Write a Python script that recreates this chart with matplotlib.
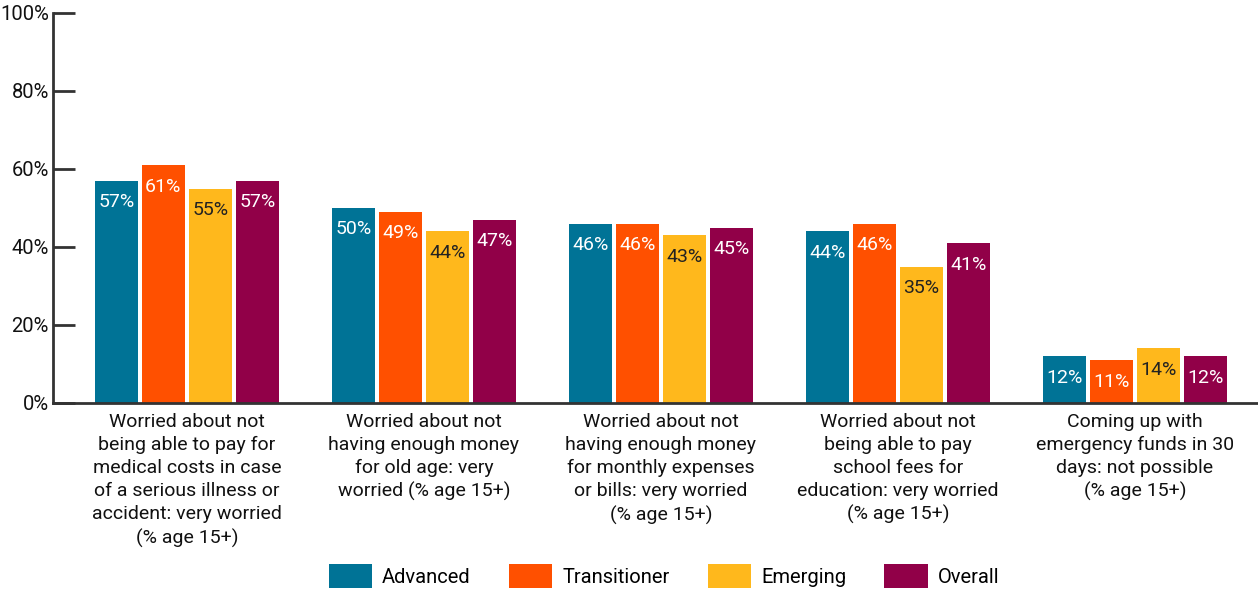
import matplotlib.pyplot as plt
import numpy as np

plt.rcParams['font.family'] = ['Roboto', 'DejaVu Sans']

categories = [
    "Worried about not\nbeing able to pay for\nmedical costs in case\nof a serious illness or\naccident: very worried\n(% age 15+)",
    "Worried about not\nhaving enough money\nfor old age: very\nworried (% age 15+)",
    "Worried about not\nhaving enough money\nfor monthly expenses\nor bills: very worried\n(% age 15+)",
    "Worried about not\nbeing able to pay\nschool fees for\neducation: very worried\n(% age 15+)",
    "Coming up with\nemergency funds in 30\ndays: not possible\n(% age 15+)",
]
series_names = ["Advanced", "Transitioner", "Emerging", "Overall"]
advanced = [57, 50, 46, 44, 12]
transitioner = [61, 49, 46, 46, 11]
emerging = [55, 44, 43, 35, 14]
overall = [57, 47, 45, 41, 12]
colors = ["#007396", "#FF5000", "#FFB81C", "#910048"]
text_colors = ["white", "white", "#222222", "white"]

fig = plt.figure(figsize=(12.58, 5.93), dpi=100)
ax = fig.add_axes([53 / 1258, 190 / 593, 1 - 53 / 1258, 390 / 593])

x = np.arange(len(categories))
width = 0.182
step = 0.198
for i, (name, vals) in enumerate(zip(series_names, [advanced, transitioner, emerging, overall])):
    pos = x + (i - 1.5) * step
    bars = ax.bar(pos, vals, width, color=colors[i], label=name)
    for b, v in zip(bars, vals):
        ax.annotate(f"{v}%", (b.get_x() + b.get_width() / 2, v), xytext=(0, -9),
                    textcoords="offset points", ha="center", va="top",
                    fontsize=14, color=text_colors[i])

ax.set_xlim(-0.565, 4.52)
ax.set_ylim(0, 100)
ax.set_yticks(range(0, 101, 20))
ax.set_yticklabels([f"{t}%" for t in range(0, 101, 20)], fontsize=14.5, color="#111111")
ax.tick_params(axis="y", direction="in", length=16, width=2, color="#333333", pad=3)
ax.set_xticks(x)
ax.set_xticklabels(categories, fontsize=14, linespacing=1.36, color="#111111")
ax.tick_params(axis="x", length=0, pad=7)
for s in ["top", "right"]:
    ax.spines[s].set_visible(False)
ax.spines["left"].set_linewidth(2)
ax.spines["bottom"].set_linewidth(2)
ax.spines["left"].set_color("#333333")
ax.spines["bottom"].set_color("#333333")

fig.legend(loc="center", bbox_to_anchor=(664 / 1258, 1 - 576 / 593), ncol=4, frameon=False,
           fontsize=14.5, handlelength=2.15, handleheight=1.4, columnspacing=1.9, handletextpad=0.5)

fig.savefig("out.png", dpi=100)
